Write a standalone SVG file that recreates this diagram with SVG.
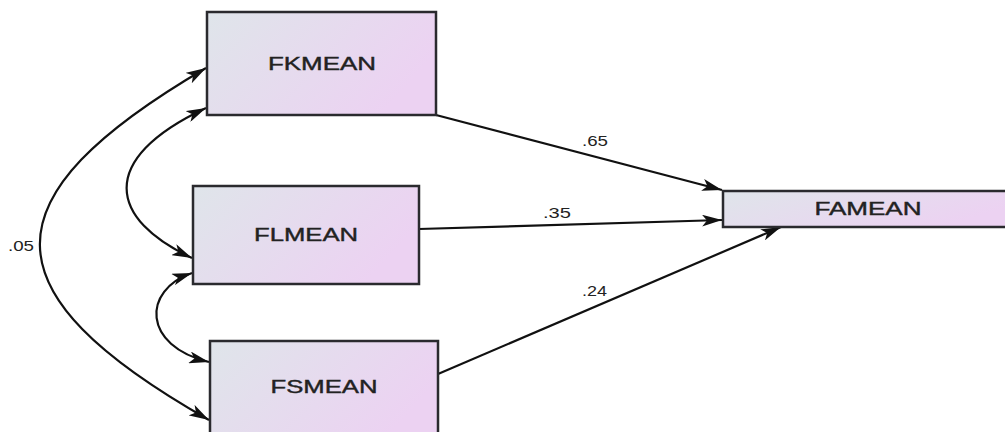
<svg xmlns="http://www.w3.org/2000/svg" width="1005" height="432" viewBox="0 0 1005 432">
<style>
.box{stroke:#2a2a2e;stroke-width:2.5;fill:url(#g)}
.lbl{font-family:"Liberation Sans",Arial,sans-serif;font-size:18px;fill:#222;stroke:#222;stroke-width:0.4;text-anchor:middle}
.num{font-family:"Liberation Sans",Arial,sans-serif;font-size:14px;fill:#222}
.c{fill:none;stroke:#111;stroke-width:2.2}
</style>
<defs>
<linearGradient id="g" x1="0" y1="0" x2="1" y2="0.4">
<stop offset="0" stop-color="#dfe5ea"/>
<stop offset="1" stop-color="#ecd2f2"/>
</linearGradient>
<marker id="a" viewBox="0 0 20 12" refX="20" refY="6" markerWidth="20" markerHeight="12" markerUnits="userSpaceOnUse" orient="auto-start-reverse">
<path d="M0,0 L20,6 L0,12 L5,6 Z" fill="#111"/>
</marker>
</defs>
<rect width="1005" height="432" fill="#fff"/>
<g id="connectors">
<path class="c" d="M436,115 L722,190" marker-end="url(#a)"/>
<path class="c" d="M419,229 L722,220" marker-end="url(#a)"/>
<path class="c" d="M438,374 L781,227" marker-end="url(#a)"/>
<path class="c" d="M206,68 C-16,198 -16,292 209,420" marker-start="url(#a)" marker-end="url(#a)"/>
<path class="c" d="M206,108 C95,160 110,220 192,258" marker-start="url(#a)" marker-end="url(#a)"/>
<path class="c" d="M192,273 C142,290 142,346 209,362" marker-start="url(#a)" marker-end="url(#a)"/>
<text class="num" x="582" y="146" textLength="26" lengthAdjust="spacingAndGlyphs">.65</text>
<text class="num" x="543" y="218" textLength="28" lengthAdjust="spacingAndGlyphs">.35</text>
<text class="num" x="582" y="296" textLength="25" lengthAdjust="spacingAndGlyphs">.24</text>
<text class="num" x="8" y="251" textLength="26" lengthAdjust="spacingAndGlyphs">.05</text>
</g>
<g id="FKMEAN">
<rect class="box" x="207" y="12" width="229" height="103"/>
<text class="lbl" x="322" y="70" textLength="108" lengthAdjust="spacingAndGlyphs">FKMEAN</text>
</g>
<g id="FLMEAN">
<rect class="box" x="193" y="186" width="226" height="98"/>
<text class="lbl" x="306" y="241" textLength="104" lengthAdjust="spacingAndGlyphs">FLMEAN</text>
</g>
<g id="FSMEAN">
<rect class="box" x="210" y="341" width="228" height="100"/>
<text class="lbl" x="324" y="393" textLength="107" lengthAdjust="spacingAndGlyphs">FSMEAN</text>
</g>
<g id="FAMEAN">
<rect class="box" x="723" y="191" width="290" height="36"/>
<text class="lbl" x="868" y="215" font-size="17" textLength="107" lengthAdjust="spacingAndGlyphs">FAMEAN</text>
</g>
</svg>
